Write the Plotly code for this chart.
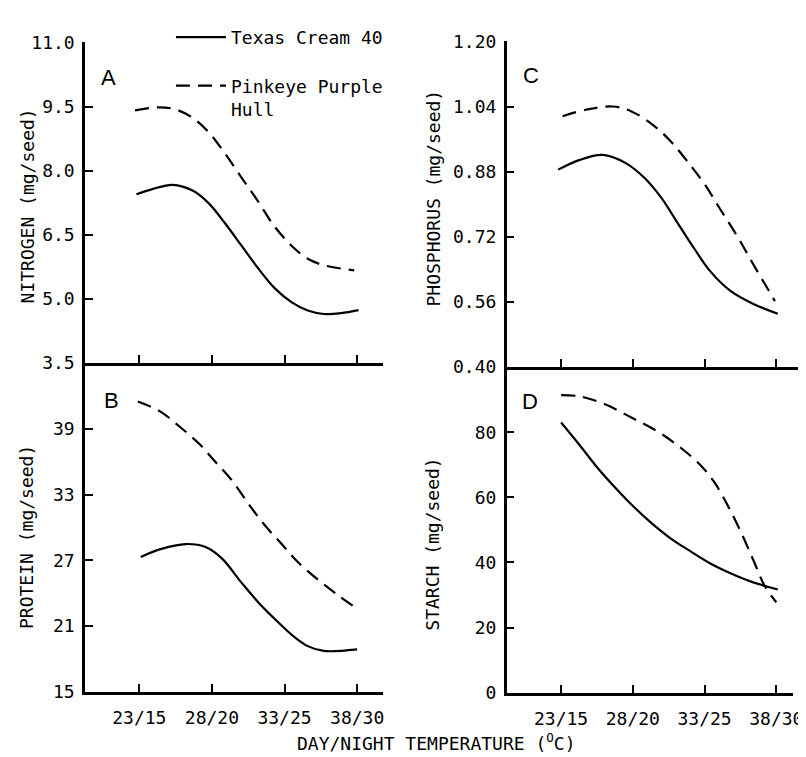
import plotly.graph_objects as go

W, H = 806, 757

tick_vals = [23, 28, 33, 38]
tick_text = ["23/15", "28/20", "33/25", "38/30"]

# Panel A - nitrogen (mg/seed)
n_tc_x = [22.8, 23.9, 25.3, 26.7, 27.8, 28.9, 30.05, 31.2, 32.3, 33.5, 34.6, 35.7, 36.9, 38.1]
n_tc_y = [7.45, 7.57, 7.67, 7.53, 7.23, 6.77, 6.24, 5.71, 5.26, 4.92, 4.73, 4.65, 4.67, 4.74]
n_pp_x = [22.7, 24.4, 25.5, 26.7, 27.8, 28.9, 30.05, 31.2, 32.3, 33.5, 34.6, 35.7, 37.8]
n_pp_y = [9.41, 9.48, 9.43, 9.23, 8.89, 8.40, 7.83, 7.27, 6.70, 6.24, 5.94, 5.79, 5.67]
n_ticks = [3.5, 5.0, 6.5, 8.0, 9.5, 11.0]
n_text = ["3.5", "5.0", "6.5", "8.0", "9.5", "11.0"]

# Panel B - protein (mg/seed)
p_tc_x = [23.1, 24.4, 26.2, 27.6, 28.7, 30.05, 31.2, 32.3, 33.5, 34.6, 35.7, 38.0]
p_tc_y = [27.31, 28.0, 28.49, 28.2, 27.16, 24.94, 23.16, 21.68, 20.2, 19.17, 18.73, 18.88]
p_pp_x = [22.9, 24.4, 25.7, 27.1, 28.2, 29.4, 30.5, 31.6, 32.8, 33.9, 35.3, 36.6, 38.0]
p_pp_y = [41.51, 40.62, 39.29, 37.66, 36.04, 34.26, 32.19, 30.27, 28.49, 26.87, 25.24, 23.9, 22.57]
p_ticks = [15, 21, 27, 33, 39]
p_text = ["15", "21", "27", "33", "39"]

# Panel C - phosphorus (mg/seed)
ph_tc_x = [22.8, 24.3, 25.9, 27.5, 28.8, 30.0, 31.1, 32.3, 33.4, 34.8, 36.4, 38.1]
ph_tc_y = [0.885, 0.909, 0.921, 0.901, 0.865, 0.815, 0.755, 0.690, 0.635, 0.587, 0.555, 0.531]
ph_pp_x = [23.1, 24.7, 26.6, 27.9, 29.5, 30.7, 31.8, 33.0, 34.1, 35.3, 36.4, 37.9]
ph_pp_y = [1.016, 1.032, 1.040, 1.028, 0.992, 0.952, 0.905, 0.849, 0.787, 0.720, 0.652, 0.562]
ph_ticks = [0.40, 0.56, 0.72, 0.88, 1.04, 1.20]
ph_text = ["0.40", "0.56", "0.72", "0.88", "1.04", "1.20"]

# Panel D - starch (mg/seed)
s_tc_x = [23.0, 24.3, 25.4, 26.6, 27.9, 29.3, 30.7, 32.1, 33.4, 34.8, 36.2, 38.1]
s_tc_y = [83.0, 76.0, 69.8, 63.8, 57.8, 52.1, 47.2, 43.2, 39.7, 36.7, 34.2, 31.7]
s_pp_x = [23.0, 24.3, 26.1, 27.9, 29.8, 31.4, 32.8, 33.7, 34.6, 35.5, 36.4, 37.2, 38.0]
s_pp_y = [91.4, 91.0, 88.5, 84.5, 80.0, 75.0, 69.5, 64.5, 57.6, 49.6, 40.7, 32.7, 27.8]
s_ticks = [0, 20, 40, 60, 80]
s_text = ["0", "20", "40", "60", "80"]

series_names = ["Texas Cream 40", "Pinkeye Purple<br>Hull"]

MONO = "DejaVu Sans Mono"
SANS = "Liberation Sans"
DASH = "14px,8px"

fig = go.Figure()

panels = [
    ("x", "y", n_tc_x, n_tc_y, n_pp_x, n_pp_y, True),
    ("x2", "y2", p_tc_x, p_tc_y, p_pp_x, p_pp_y, False),
    ("x3", "y3", ph_tc_x, ph_tc_y, ph_pp_x, ph_pp_y, False),
    ("x4", "y4", s_tc_x, s_tc_y, s_pp_x, s_pp_y, False),
]
for xa, ya, tx, ty, px, py, show in panels:
    fig.add_trace(go.Scatter(x=tx, y=ty, xaxis=xa, yaxis=ya, mode="lines",
                             line=dict(color="black", width=2.2, shape="spline", smoothing=1.0),
                             name=series_names[0], showlegend=show, legendgroup="a"))
    fig.add_trace(go.Scatter(x=px, y=py, xaxis=xa, yaxis=ya, mode="lines",
                             line=dict(color="black", width=2.2, dash=DASH, shape="spline", smoothing=1.0),
                             name=series_names[1], showlegend=show, legendgroup="b"))

def fx(px):
    return px / W

def fy(py):
    return 1 - py / H

tickfont = dict(family=MONO, size=18, color="black")

def xaxis(dom, rng, labels):
    return dict(domain=dom, range=rng, showline=True, linecolor="black", linewidth=2.5,
                ticks="inside", ticklen=8, tickwidth=2, tickcolor="black",
                tickvals=tick_vals, ticktext=tick_text, showticklabels=labels,
                tickfont=tickfont, showgrid=False, zeroline=False, fixedrange=True,
                ticklabelstandoff=8)

def yaxis(dom, rng, tv, tt, anchor):
    return dict(domain=dom, range=rng, showline=True, linecolor="black", linewidth=2.5,
                ticks="inside", ticklen=8, tickwidth=2, tickcolor="black",
                tickvals=tv, ticktext=tt, tickfont=tickfont, showgrid=False,
                zeroline=False, anchor=anchor, fixedrange=True, ticklabelstandoff=4)

fig.update_layout(
    width=W, height=H,
    margin=dict(l=0, r=0, t=0, b=0),
    paper_bgcolor="white", plot_bgcolor="white",
    font=dict(family=MONO, size=18, color="black"),
    xaxis=xaxis([fx(78), fx(380)], [19.26, 39.8], False) | dict(anchor="y"),
    yaxis=yaxis([fy(354), fy(24)], [3.5, 11.0], n_ticks, n_text, "x"),
    xaxis2=xaxis([fx(78), fx(380)], [19.26, 39.8], True) | dict(anchor="y2"),
    yaxis2=yaxis([fy(692), fy(354)], [15, 45], p_ticks, p_text, "x2"),
    xaxis3=xaxis([fx(505), fx(803)], [19.21, 39.72], False) | dict(anchor="y3"),
    yaxis3=yaxis([fy(358), fy(23)], [0.40, 1.20], ph_ticks, ph_text, "x3"),
    xaxis4=xaxis([fx(505), fx(795)], [19.21, 39.17], True) | dict(anchor="y4"),
    yaxis4=yaxis([fy(693), fy(358)], [0, 100], s_ticks, s_text, "x4"),
    legend=dict(x=fx(165), y=fy(0), xanchor="left", yanchor="top",
                bgcolor="rgba(0,0,0,0)", font=dict(family=MONO, size=18, color="black"),
                itemwidth=50, tracegroupgap=22, valign="top"),
    showlegend=True,
)

ann = []
# y titles
for text, x, y in [("NITROGEN (mg/seed)", 20, 192), ("PROTEIN (mg/seed)", 18, 533),
                   ("PHOSPHORUS (mg/seed)", 431, 184), ("STARCH (mg/seed)", 429, 540)]:
    ann.append(dict(text=text, x=fx(x), y=fy(y), xref="paper", yref="paper",
                    textangle=-90, showarrow=False, xanchor="center", yanchor="middle",
                    font=dict(family=MONO, size=18, color="black")))
# x title
ann.append(dict(text="DAY/NIGHT TEMPERATURE (<sup>O</sup>C)", x=fx(434), y=fy(744),
                xref="paper", yref="paper", showarrow=False, xanchor="center", yanchor="middle",
                font=dict(family=MONO, size=18, color="black")))
# panel letters
for text, x, y in [("A", 102, 60), ("B", 105, 392), ("C", 530, 58), ("D", 529, 393)]:
    ann.append(dict(text=text, x=fx(x), y=fy(y), xref="paper", yref="paper",
                    showarrow=False, xanchor="center", yanchor="middle",
                    font=dict(family=SANS, size=22, color="black")))
fig.update_layout(annotations=ann)

fig.write_html("out.html")
